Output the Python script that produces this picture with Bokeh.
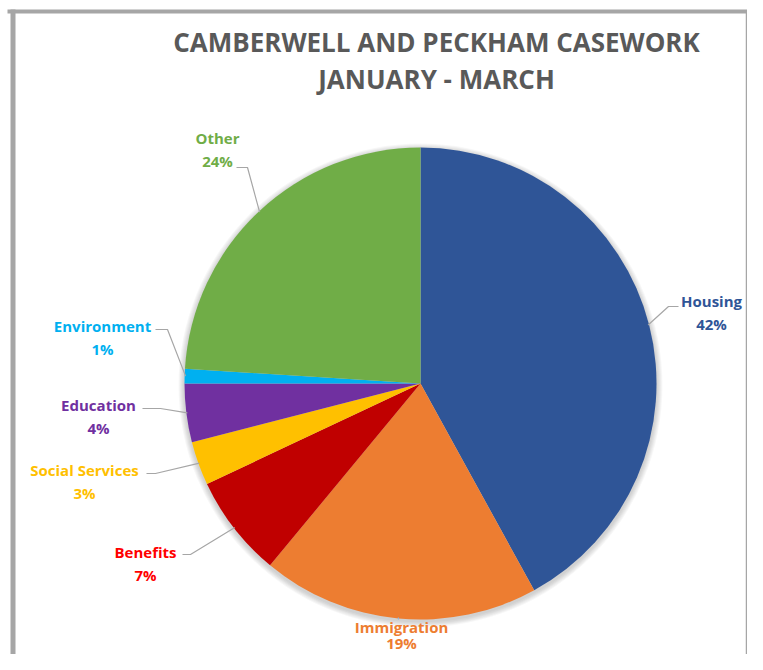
import math
from bokeh.plotting import figure
from bokeh.models import ColumnDataSource, Range1d
from bokeh.core.properties import value
from bokeh.embed import file_html
from bokeh.resources import INLINE

# ---- data ----
categories = ["Housing", "Immigration", "Benefits", "Social Services",
              "Education", "Environment", "Other"]
shares = [42, 19, 7, 3, 4, 1, 24]
title_lines = ["CAMBERWELL AND PECKHAM CASEWORK", "JANUARY - MARCH"]

# ---- styles ----
slice_colors = ["#2F5597", "#ED7D31", "#C00000", "#FFC000", "#7030A0", "#00B0F0", "#70AD47"]
label_colors = ["#2F5597", "#ED7D31", "#FF0000", "#FFC000", "#7030A0", "#00B0F0", "#70AD47"]
leader_colors = ["#A6A6A6", "#8FB4DE", "#A6A6A6", "#A6A6A6", "#A6A6A6", "#A6A6A6", "#A6A6A6"]

W, H = 747, 654


def X(px):
    return px


def Y(py):
    return H - py


# layout (picture pixels): label centre, second-line offset, leader elbow, leader end
label_pos = [(711, 300), (401, 626), (145, 551), (84, 469), (98, 404), (102, 325), (217, 137)]
line_gap = [23, 16, 23, 23, 23, 23, 23]
elbows = [(668, 306), (398, 619), (190, 554), (155, 473), (160, 408), (167, 329), (247, 167)]
ends = [(678, 306), (398, 619), (182, 554), (146, 473), (142, 408), (155, 329), (236, 167)]

CX, CY, R = X(420), Y(383), 236

p = figure(width=W, height=H, x_range=Range1d(0, W), y_range=Range1d(0, H),
           output_backend="svg", toolbar_location=None, min_border=0)
p.axis.visible = False
p.grid.visible = False
p.outline_line_color = None
p.background_fill_color = "white"
p.border_fill_color = "white"

# frame
p.segment(x0=[X(12.5)], y0=[Y(9)], x1=[X(12.5)], y1=[Y(700)], line_color="#A6A6A6", line_width=5)
p.segment(x0=[X(7)], y0=[Y(11)], x1=[X(800)], y1=[Y(11)], line_color="#A6A6A6", line_width=4)
p.segment(x0=[W - 1], y0=[Y(11)], x1=[W - 1], y1=[Y(700)], line_color="#A6A6A6", line_width=1.5)

# title
p.text(x=[X(436), X(436)], y=[Y(41), Y(78)], text=title_lines,
       text_font=value("Open Sans"), text_font_style="bold", text_font_size="26px",
       text_color="#595959", text_align="center", text_baseline="middle")

# wedges
total = float(sum(shares))
starts, stops, mids = [], [], []
cum = 0.0
for s in shares:
    a0 = math.pi / 2 - 2 * math.pi * cum / total
    cum += s
    a1 = math.pi / 2 - 2 * math.pi * cum / total
    starts.append(a0)
    stops.append(a1)
    mids.append((a0 + a1) / 2)

# soft shadow
for k in range(1, 7):
    p.circle(x=CX, y=CY - 2, radius=R + k, fill_color="black", fill_alpha=0.03, line_color=None)

src = ColumnDataSource(dict(cat=categories, share=shares, start=starts, stop=stops, color=slice_colors))
p.wedge(x=CX, y=CY, radius=R, start_angle="start", end_angle="stop", direction="clock",
        fill_color="color", line_color=None, source=src)

# leader lines
for i, m in enumerate(mids):
    sx = CX + (R - 1) * math.cos(m)
    sy = CY + (R - 1) * math.sin(m)
    xs = [sx, X(elbows[i][0]), X(ends[i][0])]
    ys = [sy, Y(elbows[i][1]), Y(ends[i][1])]
    p.line(x=xs, y=ys, line_color=leader_colors[i], line_width=1.2)

# labels
pct_text = ["%d%%" % round(100 * s / total) for s in shares]
lx = [X(a) for a, b in label_pos]
ly1 = [Y(b) for a, b in label_pos]
ly2 = [Y(b + g) for (a, b), g in zip(label_pos, line_gap)]
lab = ColumnDataSource(dict(x=lx, y1=ly1, y2=ly2, name=categories, pct=pct_text, color=label_colors))
for ycol, tcol in (("y1", "name"), ("y2", "pct")):
    p.text(x="x", y=ycol, text=tcol, source=lab, text_color="color",
           text_font=value("Open Sans"), text_font_style="bold", text_font_size="15px",
           text_align="center", text_baseline="middle")

open("out.html", "w").write(file_html(p, INLINE))
